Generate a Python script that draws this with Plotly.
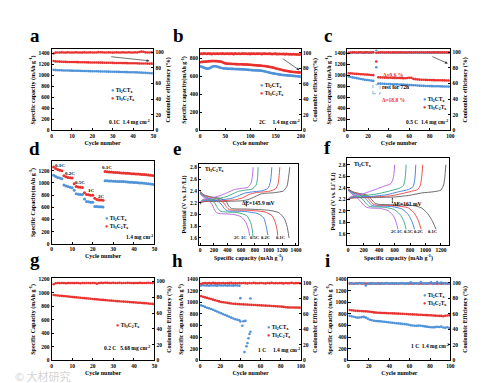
import plotly.graph_objects as go

W, H = 485, 383
SERIF = 'Liberation Serif'
RED = '#e8322f'
BLUE = '#4f93d8'
NB = '\u00a0'

TI2 = 'Ti<sub>2</sub>CT<sub>x</sub>'
TI3 = 'Ti<sub>3</sub>C<sub>2</sub>T<sub>x</sub>'

# ---------------- data ----------------
# panel a (0.1C)
a_cycle = list(range(1, 51))
a_ti3_cap = [1258,1252,1249,1247,1245,1244,1243,1242,1241,1240,1240,1239,1238,1237,1236,1236,1235,1234,1233,1233,
             1232,1231,1230,1230,1229,1228,1227,1227,1226,1225,1224,1224,1223,1222,1221,1221,1220,1219,1218,1218,
             1217,1216,1215,1215,1214,1213,1212,1212,1211,1210]
a_ti2_cap = [1098,1094,1092,1090,1089,1088,1087,1086,1085,1084,1083,1082,1081,1080,1079,1078,1077,1076,1075,1074,
             1073,1072,1071,1070,1069,1068,1067,1066,1065,1064,1063,1062,1061,1060,1059,1058,1057,1056,1055,1054,
             1053,1052,1050,1048,1046,1044,1042,1040,1038,1036]
a_ti3_ce = [98.5,99.6,99.8,99.7,99.9,99.8,99.6,99.9,99.8,99.7,99.8,99.9,99.7,99.8,99.6,99.9,99.8,99.7,99.9,99.8,
            99.7,99.8,100.2,100.1,99.9,99.8,99.7,99.9,99.8,99.6,99.8,99.9,99.7,99.8,99.9,99.8,99.7,99.9,99.8,99.7,
            99.9,99.8,100.4,100.8,100.6,99.9,99.8,99.7,99.9,99.8]

# panel b (2C)
b_cycle = list(range(1, 200, 2))
b_ti3_cap = [758,760,762,763,764,765,766,767,768,769, 770,771,771,772,771,770,770,769,768,767,
             765,762,758,752,748,745,743,742,741,740, 740,739,739,738,738,737,737,736,736,735,
             735,735,734,734,733,733,732,732,731,730, 729,728,727,726,725,724,723,722,721,720,
             719,718,717,716,715,713,711,709,707,705, 703,700,698,695,692,689,686,683,680,677,
             674,671,668,666,664,662,660,658,656,654, 652,651,650,649,648,647,646,645,645,644]
b_ti2_cap = [712,708,704,700,695,690,688,687,688,692, 698,705,710,713,714,713,711,708,704,700,
             697,694,692,690,689,688,687,686,686,685, 685,684,684,683,683,682,682,681,681,680,
             680,679,679,678,677,676,675,674,673,672, 671,670,669,669,668,668,667,667,666,665,
             664,662,660,658,655,652,649,646,643,640, 638,636,634,632,630,628,626,624,622,620,
             618,617,616,615,614,613,612,611,610,609, 608,607,606,605,604,603,602,601,600,599]
b_ti3_ce = [98.6,99.1,98.4,98.9,99.2,98.7,98.3,98.8,99.0,98.5, 98.9,98.2,98.7,99.1,98.6,98.4,98.9,98.8,98.3,99.0,
            98.7,98.5,99.2,98.6,98.3,98.9,98.7,99.0,98.4,98.8, 98.6,99.1,98.5,98.2,98.8,98.9,98.4,98.7,99.0,98.6,
            98.3,98.8,98.9,98.5,98.7,99.1,98.4,98.6,98.8,98.2, 98.9,98.5,98.7,99.0,98.3,98.6,98.8,98.4,98.9,98.7,
            98.5,98.2,98.8,98.6,99.0,98.4,98.7,98.3,98.9,98.5, 98.6,98.1,98.7,98.4,98.8,98.2,98.6,98.0,98.5,98.3,
            98.4,98.0,98.6,98.2,97.9,98.5,98.1,98.3,97.8,98.2, 98.0,97.7,98.3,97.9,98.1,97.6,98.0,97.8,97.5,97.9]

# panel c (0.5C, rest for 72 h)
c_cycle = list(range(1, 26, 2)) + [28] + list(range(30, 101, 2))
c_ti3_cap = [1038,1035,1031,1028,1025,1022,1020,1018,1015,1012,1010,1006,1002, 1250,
             965,962,960,958,957,955,954,953,952,951, 950,949,948,947,952,955,953,935,930,925,
             922,920,918,916,915,914,913,912,911,910, 909,908,907,906,905,905]
c_ti2_cap = [980,970,962,955,948,940,933,926,920,914,909,904,898, 1145,
             850,848,846,845,843,842,840,838,836,835, 833,831,830,828,826,824,822,820,818,815,
             812,810,808,806,805,804,803,802,801,800, 799,798,797,796,795,795]
c_ti3_ce = [99.2,99.8,99.9,100.1,99.8,99.9,100.0,99.7,99.9,100.1,99.8,99.9,100.0, 99.5,
            99.8,100.0,99.9,99.7,100.1,99.9,99.8,100.0,99.9,99.8, 100.1,99.9,99.7,100.0,99.8,99.9,100.1,99.8,99.9,100.0,
            99.8,99.9,100.1,99.7,99.9,100.0,99.8,99.9,100.0,99.9, 99.8,100.1,99.9,99.8,100.0,99.9]
c_ti2_ce = [99.0,99.5,99.6,99.7,99.5,99.6,99.7,99.5,99.6,99.7,99.5,99.6,99.7, 103.0,
            99.6,99.5,99.7,99.6,99.5,99.6,99.7,99.5,99.6,99.7, 99.5,99.6,99.7,99.5,99.6,99.7,99.5,99.6,99.7,99.5,
            99.6,99.7,99.5,99.6,99.7,99.5,99.6,99.7,99.5,99.6, 99.7,99.5,99.6,99.7,99.5,99.6]

# panel d (rate capability)
d_cycle = list(range(1, 51))
d_ti3_cap = [1262,1235,1220,1210,1200, 1118,1100,1090,1085,1080, 985,940,932,928,925, 840,812,805,800,798,
             748,728,722,720,718, 1188,1183,1180,1178,1175,1172,1170,1168,1165,1162,1160,1158,1155,1152,1150,
             1148,1145,1142,1140,1137,1135,1132,1128,1124,1120]
d_ti2_cap = [1125,1105,1090,1080,1068, 965,950,940,930,922, 880,822,815,812,810, 735,695,690,685,682,
             615,612,610,608,606, 1038,1035,1032,1030,1028,1026,1024,1022,1025,1023,1020,1015,1012,1010,1008,
             1006,1004,1000,998,995,992,988,984,978,972]
d_rate_labels = ['0.1C', '0.2C', '0.5C', '1C', '2C', '0.1C']
d_rate_label_x = [4, 9, 14, 19.5, 24.5, 27]
d_rate_label_y = [1285, 1160, 1010, 880, 785, 1250]

# panels e / f (charge-discharge profiles)
RATES = ['0.1C', '0.2C', '0.5C', '1C', '2C']
RATE_COLORS = ['#5c5c5c', '#e8403a', '#3b78d8', '#2fa67a', '#b25fdc']

e_dis_q = [[0,60,150,300,380,420,460,700,1000,1150,1230,1270,1300],
           [0,60,150,280,350,390,430,700,950,1050,1100,1125,1135],
           [0,60,140,250,320,360,400,650,850,930,965,990],
           [0,60,130,210,250,290,330,550,680,740,765,775],
           [0,50,110,170,210,240,280,480,600,670,705,725]]
e_dis_v = [[2.39,2.33,2.30,2.27,2.22,2.14,2.10,2.09,2.07,2.03,1.93,1.80,1.60],
           [2.38,2.32,2.29,2.25,2.19,2.12,2.08,2.07,2.04,1.98,1.86,1.74,1.64],
           [2.37,2.31,2.27,2.23,2.16,2.09,2.06,2.05,2.01,1.94,1.80,1.65],
           [2.36,2.30,2.25,2.20,2.12,2.06,2.045,2.03,1.98,1.86,1.72,1.61],
           [2.35,2.29,2.24,2.18,2.08,2.03,2.015,2.0,1.96,1.86,1.75,1.64]]
e_ch_q = [[0,40,300,600,700,800,900,1100,1220,1270,1295,1310],
          [0,40,300,520,620,720,820,1000,1100,1140,1155,1165],
          [0,40,250,450,550,650,750,900,990,1025,1040,1048],
          [0,40,220,380,480,560,650,760,820,840,848],
          [0,40,180,320,420,500,600,700,745,765,775]]
e_ch_v = [[2.17,2.21,2.22,2.23,2.25,2.30,2.35,2.37,2.40,2.48,2.65,2.80],
          [2.18,2.22,2.23,2.25,2.28,2.34,2.37,2.39,2.43,2.52,2.66,2.80],
          [2.19,2.23,2.24,2.27,2.31,2.36,2.38,2.40,2.44,2.54,2.67,2.80],
          [2.20,2.24,2.26,2.30,2.35,2.39,2.41,2.43,2.50,2.63,2.80],
          [2.21,2.25,2.28,2.33,2.38,2.42,2.44,2.46,2.53,2.65,2.80]]

f_dis_q = [[0,60,150,250,300,340,380,600,850,950,1030,1090,1137],
           [0,60,140,230,280,320,360,600,780,860,910,944],
           [0,60,130,210,260,300,340,560,700,780,830,858],
           [0,50,110,180,230,270,310,480,600,680,725,750],
           [0,50,100,150,200,240,280,420,520,590,625,644]]
f_dis_v = [[2.38,2.33,2.30,2.27,2.20,2.14,2.115,2.105,2.09,2.05,1.95,1.82,1.68],
           [2.37,2.32,2.29,2.25,2.18,2.12,2.10,2.09,2.05,1.95,1.82,1.68],
           [2.36,2.31,2.28,2.23,2.16,2.10,2.085,2.075,2.03,1.93,1.80,1.68],
           [2.36,2.30,2.26,2.21,2.13,2.08,2.07,2.06,2.02,1.92,1.80,1.68],
           [2.35,2.29,2.24,2.18,2.10,2.06,2.05,2.04,2.00,1.90,1.78,1.68]]
f_ch_q = [[0,40,300,600,800,950,1100,1200,1235,1252,1264],
          [0,40,300,550,700,820,900,935,952,965],
          [0,40,300,500,650,780,840,862,875],
          [0,40,250,400,550,660,715,738,750],
          [0,40,200,350,470,550,580,593,600]]
f_ch_v = [[2.19,2.22,2.23,2.24,2.27,2.31,2.33,2.36,2.45,2.60,2.80],
          [2.19,2.22,2.24,2.26,2.30,2.34,2.37,2.45,2.60,2.80],
          [2.20,2.23,2.25,2.28,2.33,2.37,2.42,2.55,2.80],
          [2.20,2.24,2.27,2.30,2.35,2.39,2.44,2.58,2.80],
          [2.21,2.25,2.30,2.37,2.43,2.47,2.55,2.65,2.80]]

e_label_q = [1170, 960, 790, 640, 540]
f_label_q = [1095, 910, 775, 665, 590]

# panel g (0.2C, 5.68 mg cm-2)
g_cycle = list(range(1, 51))
g_ti3_cap = [965,962,958,955,952,949,946,943,940,937, 934,931,928,925,922,919,916,913,910,907,
             904,901,898,895,893,890,888,885,883,880, 878,875,873,870,868,866,864,861,859,857,
             854,852,850,848,845,843,840,837,834,830]
g_ti3_ce = [96.5,97.8,98.0,97.9,98.1,98.0,97.8,97.9,98.1,98.0, 97.9,98.0,98.1,97.8,98.0,97.9,98.1,98.0,97.9,98.0,
            98.1,97.2,98.0,98.2,98.1,98.3,98.2,98.0,98.1,98.2, 98.0,98.1,98.2,97.9,98.1,98.0,98.2,98.1,98.0,97.9,
            98.1,98.0,98.2,98.1,98.0,98.1,98.2,98.0,98.1,98.2]

# panel h (1C)
h_ti3_cycle = list(range(1, 100, 2))
h_ti3_cap = [1105,1095,1085,1075,1065,1055,1045,1035,1025,1015, 1005,1000,995,990,985,980,975,972,970,968,
             965,963,962,960,958,956,954,952,950,948, 946,944,942,940,938,936,934,932,930,928,
             925,920,915,912,910,910,909,908,908,907]
h_ti3_ce = [99.0,99.8,100.2,99.6,100.0,99.7,100.3,99.9,99.6,100.1, 99.8,100.2,99.7,100.0,99.9,100.3,99.6,100.1,99.8,100.0,
            99.7,100.2,99.9,99.6,100.1,99.8,100.3,99.9,99.7,100.0, 100.2,99.8,99.6,100.1,99.9,100.3,99.7,100.0,99.8,100.2,
            99.9,99.6,100.1,99.8,100.0,100.3,99.7,99.9,100.1,99.8]
h_ti2_cycle = list(range(1, 40, 2)) + [40, 42, 43, 44, 45, 46, 47, 48, 49, 50]
h_ti2_cap = [946,935,920,905,895,885,870,855,840,825,810,795,780,765,750,735,720,708,700,690,
             669,595,674,142,680,244,300,380,453,493]
h_ti2_ce_cycle = list(range(1, 40, 2)) + [40, 50]
h_ti2_ce = [96.8,97.2,96.9,97.0,96.6,97.1,96.8,97.0,96.7,97.2,96.9,96.8,97.1,96.7,97.0,96.9,96.6,97.1,96.8,96.5,
            80.5,80.0]

# panel i (1C)
i_cycle = list(range(1, 100, 2))
i_ti3_cap = [867,862,858,855,852,850,848,846,844,842, 838,832,826,822,820,818,816,815,814,812,
             810,809,808,806,805,803,801,799,797,795, 793,791,790,788,786,784,782,780,778,777,
             775,772,770,768,766,765,760,768,772,775]
i_ti2_cap = [765,760,752,742,735,738,745,748,735,718, 700,690,682,678,675,672,668,664,660,656,
             652,648,644,640,636,632,628,624,620,612, 605,600,596,597,598,595,590,585,580,575,
             570,568,572,578,575,580,565,560,570,555]
i_ti3_ce = [98.8,99.2,98.6,99.0,98.9,99.3,98.7,99.1,98.8,99.0, 98.6,99.2,98.9,98.7,99.1,98.8,99.0,98.6,99.2,98.9,
            98.7,99.1,98.8,99.0,98.6,99.3,98.9,98.7,99.1,98.8, 99.0,98.6,99.2,98.9,98.7,99.1,98.8,99.0,98.6,99.2,
            98.9,98.7,99.1,98.8,99.0,98.6,99.2,98.9,98.7,99.0]
i_ti2_ce = [99.5,99.0,98.7,99.3,98.9,99.6,99.1,99.4,96.5,99.0, 99.2,98.8,99.4,99.0,98.7,99.3,99.1,98.9,99.5,99.0,
            98.8,99.3,99.0,99.4,98.9,99.1,99.6,98.8,99.2,99.0, 100.5,99.1,98.9,99.3,99.0,100.8,98.7,99.2,99.4,99.0,
            100.6,99.1,98.8,101.0,99.3,100.2,98.6,99.5,99.1,99.0]

# ---------------- layout helpers ----------------
ORDER = 'abcdefghi'
PANEL_PX = {
    'a': ((43, 146), (40, 122)), 'b': ((193, 295), (40, 122)), 'c': ((342, 446), (40, 122)),
    'd': ((43, 147), (153, 237)), 'e': ((192, 292), (156, 238)), 'f': ((342, 445), (150, 238)),
    'g': ((43, 147), (272, 355)), 'h': ((193, 295), (272, 355)), 'i': ((343, 446), (272, 355)),
}
RIGHT_ID = {'a': 10, 'b': 11, 'c': 12, 'g': 13, 'h': 14, 'i': 15}


def xn(p):
    n = ORDER.index(p) + 1
    return 'x' if n == 1 else f'x{n}'


def yn(p):
    n = ORDER.index(p) + 1
    return 'y' if n == 1 else f'y{n}'


def rn(p):
    return f'y{RIGHT_ID[p]}'


def lay(name):
    return name[0] + 'axis' + name[1:]


TICKFONT = dict(family=SERIF, size=5.5, color='black', weight='bold')
TITLEFONT = dict(family=SERIF, size=6, color='black', weight='bold')


def base_axis():
    return dict(showline=True, linecolor='black', linewidth=0.9, ticks='inside', ticklen=2.2,
                tickwidth=0.7, tickcolor='black', showgrid=False, zeroline=False,
                tickfont=TICKFONT)


layout_axes = {}
SPEC = {
    'a': dict(xr=[0, 50], xd=10, yr=[0, 1468], yd=200, rr=[0, 103.6],
              xt='Cycle number', yt='Specific capacity (mAh g<sup>-1</sup>)', rt='Coulombic efficiency (%)'),
    'b': dict(xr=[0, 200], xd=50, yr=[0, 900], yd=200, rr=[0, 104.2],
              xt='Cycle number', yt='Specific capacity(mAh g<sup>-1</sup>)', rt='Coulombic efficiency(%)'),
    'c': dict(xr=[0, 100], xd=20, yr=[0, 1468], yd=200, rr=[0, 103.6],
              xt='Cycle number', yt='Specific capacity (mAh g<sup>-1</sup>)', rt='Coulombic efficiency (%)'),
    'd': dict(xr=[0, 50], xd=10, yr=[0, 1360], yd=200, rr=None,
              xt='Cycle number', yt='Specific Capacity(mAh g<sup>-1</sup>)', rt=None),
    'e': dict(xr=[-15, 1430], xd=200, yr=[1.483, 2.855], yd=0.2, rr=None,
              xt='Specific capacity (mAh g<sup>-1</sup>)', yt='Potential (V vs. Li<sup>+</sup>/Li)', rt=None),
    'f': dict(xr=[-10, 1310], xd=200, yr=[1.41, 2.915], yd=0.2, rr=None,
              xt='Specific capacity (mAh g<sup>-1</sup>)', yt='Potential (V vs. Li<sup>+</sup>/Li)', rt=None),
    'g': dict(xr=[0, 50], xd=10, yr=[0, 1210], yd=200, rr=[0, 103.8],
              xt='Cycle number', yt='Specific Capacity (mAh g<sup>-1</sup>)', rt='Coulombic Efficiency (%)'),
    'h': dict(xr=[0, 100], xd=20, yr=[0, 1410], yd=200, rr=[0, 106],
              xt='Cycle number', yt='Specific Capacity (mAh g<sup>-1</sup>)', rt='Coulombic Efficiency (%)'),
    'i': dict(xr=[0, 100], xd=20, yr=[0, 1410], yd=200, rr=[0, 105.5],
              xt='Cycle number', yt='Specific Capacity (mAh g<sup>-1</sup>)', rt='Coulombic Efficiency (%)'),
}

for p in ORDER:
    (x0, x1), (y0, y1) = PANEL_PX[p]
    s = SPEC[p]
    xdom = [x0 / W, x1 / W]
    ydom = [1 - y1 / H, 1 - y0 / H]
    ax = base_axis()
    ax.update(domain=xdom, anchor=yn(p), range=s['xr'], tick0=0, dtick=s['xd'], mirror=True,
              title=dict(text=s['xt'], font=TITLEFONT, standoff=2))
    layout_axes[lay(xn(p))] = ax
    ay = base_axis()
    ay.update(domain=ydom, anchor=xn(p), range=s['yr'], dtick=s['yd'],
              tick0=(1.6 if p in 'ef' else 0), mirror=(s['rr'] is None),
              title=dict(text=s['yt'], font=TITLEFONT, standoff=2))
    if p in 'ef':
        ay['tickformat'] = '.1f'
    layout_axes[lay(yn(p))] = ay
    if s['rr'] is not None:
        ar = base_axis()
        ar.update(overlaying=yn(p), side='right', anchor=xn(p), range=s['rr'], tick0=0, dtick=20,
                  title=dict(text=s['rt'], font=TITLEFONT, standoff=2))
        layout_axes[lay(rn(p))] = ar

fig = go.Figure()
MS = 2.6


def pts(p, x, y, color, right=False, size=MS):
    fig.add_trace(go.Scatter(x=x, y=y, mode='markers', xaxis=xn(p), yaxis=(rn(p) if right else yn(p)),
                             marker=dict(color=color, size=size, line=dict(width=0)),
                             showlegend=False, hoverinfo='skip'))


# a
pts('a', a_cycle, a_ti3_ce, RED, right=True)
pts('a', a_cycle, a_ti2_cap, BLUE)
pts('a', a_cycle, a_ti3_cap, RED)
# b
pts('b', b_cycle, b_ti3_ce, RED, right=True)
pts('b', b_cycle, b_ti2_cap, BLUE)
pts('b', b_cycle, b_ti3_cap, RED)
# c
pts('c', c_cycle, c_ti2_ce, BLUE, right=True)
pts('c', c_cycle, c_ti3_ce, RED, right=True)
pts('c', c_cycle, c_ti2_cap, BLUE)
pts('c', c_cycle, c_ti3_cap, RED)
# d
pts('d', d_cycle, d_ti2_cap, BLUE, size=3)
pts('d', d_cycle, d_ti3_cap, RED, size=3)
# e, f
for p, dq, dv, cq, cv in (('e', e_dis_q, e_dis_v, e_ch_q, e_ch_v), ('f', f_dis_q, f_dis_v, f_ch_q, f_ch_v)):
    for k in range(len(RATES)):
        for qq, vv in ((dq[k], dv[k]), (cq[k], cv[k])):
            fig.add_trace(go.Scatter(x=qq, y=vv, mode='lines', xaxis=xn(p), yaxis=yn(p),
                                     line=dict(color=RATE_COLORS[k], width=0.9, shape='spline', smoothing=0.6),
                                     showlegend=False, hoverinfo='skip'))
# g
pts('g', g_cycle, g_ti3_ce, RED, right=True)
pts('g', g_cycle, g_ti3_cap, RED)
# h
pts('h', h_ti2_ce_cycle, h_ti2_ce, BLUE, right=True)
pts('h', h_ti3_cycle, h_ti3_ce, RED, right=True)
pts('h', h_ti2_cycle, h_ti2_cap, BLUE)
pts('h', h_ti3_cycle, h_ti3_cap, RED)
# i
pts('i', i_cycle, i_ti3_ce, RED, right=True)
pts('i', i_cycle, i_ti2_ce, BLUE, right=True)
pts('i', i_cycle, i_ti2_cap, BLUE)
pts('i', i_cycle, i_ti3_cap, RED)

# ---------------- annotations ----------------
ann = []
shapes = []
SMALL = dict(family=SERIF, size=5.5, color='black', weight='bold')


def dom_text(p, x, y, text, font=SMALL, xanchor='center'):
    ann.append(dict(xref=f'{xn(p)} domain', yref=f'{yn(p)} domain', x=x, y=y, text=text,
                    showarrow=False, xanchor=xanchor, yanchor='middle', font=font))


def legend(p, x, y, items, dy):
    for k, (color, label) in enumerate(items):
        dom_text(p, x, y - k * dy, f"<span style='color:{color}'>\u25cf</span>{NB}{label}", xanchor='left')


# panel letters
letters = {'a': (26, 26), 'b': (171, 26), 'c': (322, 26), 'd': (26, 140), 'e': (170, 140),
           'f': (322, 139), 'g': (26, 253), 'h': (170, 254), 'i': (322, 254)}
for p, (lx, ly) in letters.items():
    ann.append(dict(xref='paper', yref='paper', x=lx / W, y=1 - ly / H, text=p, showarrow=False,
                    xanchor='center', yanchor='middle',
                    font=dict(family=SERIF, size=19, color='black', weight='bold')))

# legends
legend('a', 0.56, 0.49, [(BLUE, TI2), (RED, TI3)], 0.10)
legend('b', 0.57, 0.55, [(BLUE, TI2), (RED, TI3)], 0.10)
legend('c', 0.71, 0.38, [(BLUE, TI2), (RED, TI3)], 0.10)
legend('d', 0.50, 0.31, [(BLUE, TI2), (RED, TI3)], 0.10)
legend('g', 0.61, 0.43, [(RED, TI3)], 0.10)
legend('h', 0.64, 0.40, [(BLUE, TI2), (RED, TI3)], 0.10)
legend('i', 0.71, 0.79, [(BLUE, TI2), (RED, TI3)], 0.10)

# condition texts
dom_text('a', 0.76, 0.11, f'0.1C{NB*2}1.4 mg cm<sup>-2</sup>')
dom_text('b', 0.79, 0.11, f'2C{NB*5}1.4 mg cm<sup>-2</sup>')
dom_text('c', 0.77, 0.11, f'0.5 C{NB*2}1.4 mg cm<sup>-2</sup>')
dom_text('d', 0.85, 0.08, '1.4 mg cm<sup>-2</sup>')
dom_text('g', 0.73, 0.15, f'0.2 C{NB*3}5.68 mg cm<sup>-2</sup>')
dom_text('h', 0.78, 0.13, f'1 C{NB*5}1.4 mg cm<sup>-2</sup>')
dom_text('i', 0.80, 0.18, f'1 C{NB*2}1.4 mg cm<sup>-2</sup>')

# arrows toward the right axis
for p, (tx, ty, hx, hy) in {'a': (28.5, 1339, 48, 1262), 'b': (161, 809, 197, 669),
                             'c': (81, 1350, 97.5, 1214)}.items():
    ann.append(dict(xref=xn(p), yref=yn(p), axref=xn(p), ayref=yn(p), x=hx, y=hy, ax=tx, ay=ty,
                    showarrow=True, arrowhead=2, arrowsize=0.8, arrowwidth=0.7, arrowcolor='#333333',
                    standoff=0, text=''))

# panel c extras
RED_TXT = dict(family=SERIF, size=5.5, color=RED, weight='bold')
ann.append(dict(xref='x3', yref='y3', x=44, y=1010, text='\u0394=9.6 %', showarrow=False, font=RED_TXT))
ann.append(dict(xref='x3', yref='y3', x=45, y=545, text='\u0394=18.8 %', showarrow=False, font=RED_TXT))
ann.append(dict(xref='x3', yref='y3', x=32, y=790, text='rest for 72h', showarrow=False, xanchor='left',
                font=SMALL))
shapes.append(dict(type='rect', xref='x3', yref='y3', x0=24.7, x1=31.7, y0=663, y1=830,
                   line=dict(color=BLUE, width=0.7, dash='dot')))

# panel d rate labels
for t, lx, ly in zip(d_rate_labels, d_rate_label_x, d_rate_label_y):
    ann.append(dict(xref='x4', yref='y4', x=lx, y=ly, text=t, showarrow=False,
                    font=dict(family=SERIF, size=5, color='black', weight='bold')))

# panels e / f labels
for p, title, dE, dEx, dEy, arx, y_lo, y_hi, lab_q, lab_v in (
        ('e', TI3, '\u0394E=145.9 mV', 850, 2.19, 676, 2.105, 2.225, e_label_q, 1.60),
        ('f', TI2, '\u0394E=161 mV', 760, 2.12, 572, 2.10, 2.23, f_label_q, 1.64)):
    dom_text(p, 0.04, 0.93, title, xanchor='left')
    ann.append(dict(xref=xn(p), yref=yn(p), x=dEx, y=dEy, text=dE, showarrow=False, font=SMALL))
    ann.append(dict(xref=xn(p), yref=yn(p), axref=xn(p), ayref=yn(p), x=arx, y=y_hi, ax=arx, ay=y_lo,
                    showarrow=True, arrowhead=2, arrowside='end+start', arrowsize=0.6, arrowwidth=0.6,
                    arrowcolor='#333333', standoff=0, startstandoff=0, text=''))
    for r, q in zip(RATES, lab_q):
        ann.append(dict(xref=xn(p), yref=yn(p), x=q, y=lab_v, text=r, showarrow=False,
                        font=dict(family=SERIF, size=4.5, color='black', weight='bold')))

# watermark
ann.append(dict(xref='paper', yref='paper', x=4 / W, y=1 - 371 / H, text='\u00a9 \u5927\u6750\u7814\u7a76',
                showarrow=False, xanchor='left', yanchor='middle',
                font=dict(family='Noto Sans CJK SC', size=11, color='#d4d4d4')))

fig.update_layout(width=W, height=H, margin=dict(l=0, r=0, t=0, b=0), autosize=False,
                  paper_bgcolor='white', plot_bgcolor='white', showlegend=False,
                  annotations=ann, shapes=shapes, **layout_axes)

fig.write_html('out.html')
